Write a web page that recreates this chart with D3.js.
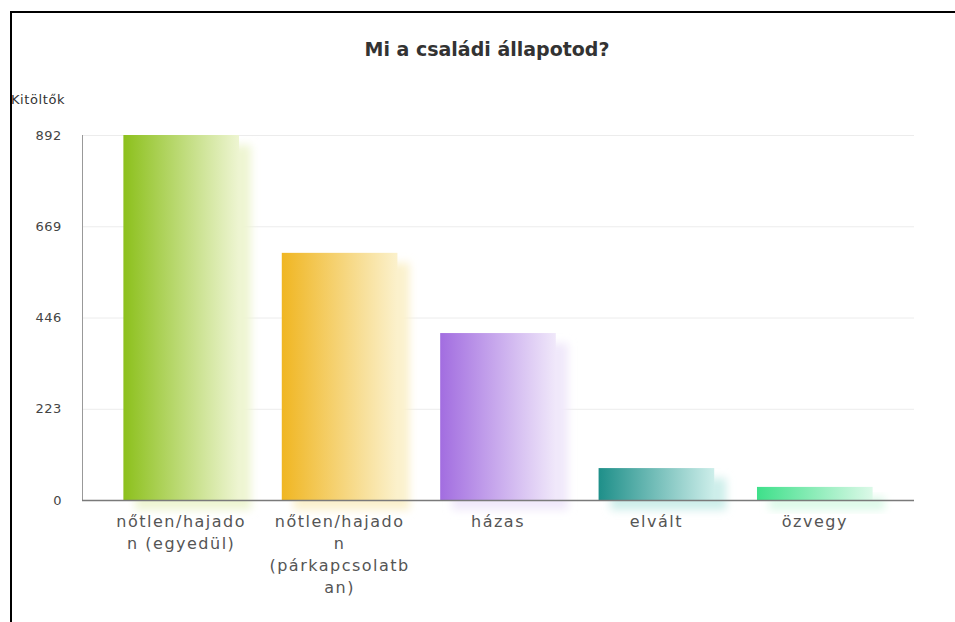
<!DOCTYPE html>
<html>
<head>
<meta charset="utf-8">
<script src="https://cdn.jsdelivr.net/npm/d3@7"></script>
<style>
  html, body { margin: 0; padding: 0; background: #fff; }
  svg { display: block; }
</style>
</head>
<body>
<svg id="chart" width="955" height="622"></svg>
<script>
const title = "Mi a családi állapotod?";
const yAxisTitle = "Kitöltők";
const categories = ["nőtlen/hajadon (egyedül)", "nőtlen/hajadon (párkapcsolatban)", "házas", "elvált", "özvegy"];
const categoryLines = [
  ["nőtlen/hajado", "n (egyedül)"],
  ["nőtlen/hajado", "n", "(párkapcsolatb", "an)"],
  ["házas"],
  ["elvált"],
  ["özvegy"]
];
const values = [892, 604, 408, 78, 32];
const yTicks = [0, 223, 446, 669, 892];
const colorsDark = ["#8cc01c", "#f0b622", "#a26de0", "#1e8f89", "#3ee08a"];
const colorsLight = ["#eef5d2", "#fbf1cc", "#f0e8fa", "#cdeeea", "#dcf9e8"];

const svg = d3.select("#chart");
const W = 955, H = 622;
const plot = { left: 82, right: 914, top: 135, bottom: 500 };

const defs = svg.append("defs");
categories.forEach((c, i) => {
  const g = defs.append("linearGradient").attr("id", "grad" + i)
    .attr("x1", "0%").attr("x2", "100%").attr("y1", "0%").attr("y2", "0%");
  g.append("stop").attr("offset", "0%").attr("stop-color", colorsDark[i]);
  g.append("stop").attr("offset", "100%").attr("stop-color", colorsLight[i]);
});
defs.append("filter").attr("id", "blur")
  .attr("x", "-30%").attr("y", "-30%").attr("width", "160%").attr("height", "160%")
  .append("feGaussianBlur").attr("stdDeviation", 4);

const x = d3.scaleBand().domain(categories).range([102, 894])
  .paddingInner(0.27).paddingOuter(0.135);
const y = d3.scaleLinear().domain([0, d3.max(yTicks)]).range([plot.bottom, plot.top]);

// gridlines
svg.append("g").selectAll("line").data(yTicks.filter(t => t > 0)).join("line")
  .attr("x1", plot.left).attr("x2", plot.right)
  .attr("y1", d => y(d) + 0.5).attr("y2", d => y(d) + 0.5)
  .attr("stroke", "#ececec").attr("stroke-width", 1);

// shadows
svg.append("g").selectAll("rect").data(categories).join("rect")
  .attr("x", d => x(d) + 12)
  .attr("y", (d, i) => y(values[i]) + 10)
  .attr("width", x.bandwidth())
  .attr("height", (d, i) => plot.bottom - y(values[i]))
  .attr("fill", (d, i) => colorsLight[i])
  .attr("opacity", 1)
  .attr("filter", "url(#blur)");

// bars
svg.append("g").selectAll("rect").data(categories).join("rect")
  .attr("x", d => x(d))
  .attr("y", (d, i) => y(values[i]))
  .attr("width", x.bandwidth())
  .attr("height", (d, i) => plot.bottom - y(values[i]))
  .attr("fill", (d, i) => "url(#grad" + i + ")");

// axes lines
svg.append("line").attr("x1", plot.left + 0.5).attr("x2", plot.left + 0.5)
  .attr("y1", plot.top).attr("y2", plot.bottom)
  .attr("stroke", "#999").attr("stroke-width", 1);
svg.append("line").attr("x1", plot.left).attr("x2", plot.right)
  .attr("y1", plot.bottom + 0.5).attr("y2", plot.bottom + 0.5)
  .attr("stroke", "#7a7a7a").attr("stroke-width", 1.3);

// y tick labels
const yAxis = d3.axisLeft(y).tickValues(yTicks).tickSize(0).tickPadding(20);
const ya = svg.append("g").attr("transform", `translate(${plot.left},0)`).call(yAxis);
ya.select(".domain").remove();
ya.selectAll("text")
  .attr("font-family", "DejaVu Sans, sans-serif").attr("font-size", 13)
  .attr("letter-spacing", 0.6).attr("fill", "#444");

// x labels
const xl = svg.append("g");
categories.forEach((c, i) => {
  const t = xl.append("text")
    .attr("x", x(c) + x.bandwidth() / 2)
    .attr("y", 527)
    .attr("text-anchor", "middle")
    .attr("font-family", "DejaVu Sans, sans-serif").attr("font-size", 16)
    .attr("letter-spacing", 1.5).attr("fill", "#555");
  categoryLines[i].forEach((ln, j) => {
    t.append("tspan").attr("x", x(c) + x.bandwidth() / 2)
      .attr("dy", j === 0 ? 0 : 22).text(ln);
  });
});

// y axis title
svg.append("text").attr("x", 11).attr("y", 104)
  .attr("font-family", "DejaVu Sans, sans-serif").attr("font-size", 13)
  .attr("letter-spacing", 0.6).attr("fill", "#333").text(yAxisTitle);

// title
svg.append("text").attr("x", 487).attr("y", 56).attr("text-anchor", "middle")
  .attr("font-family", "DejaVu Sans, sans-serif").attr("font-weight", "bold")
  .attr("font-size", 19).attr("fill", "#333").text(title);

// frame
svg.append("line").attr("x1", 10).attr("x2", W).attr("y1", 12).attr("y2", 12)
  .attr("stroke", "#000").attr("stroke-width", 2);
svg.append("line").attr("x1", 11).attr("x2", 11).attr("y1", 11).attr("y2", H)
  .attr("stroke", "#000").attr("stroke-width", 2);
</script>
</body>
</html>
